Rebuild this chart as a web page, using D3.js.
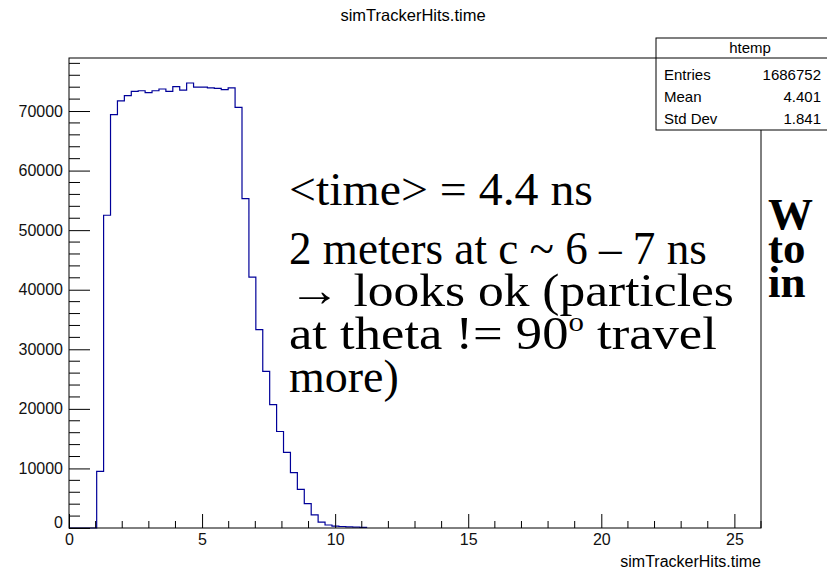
<!DOCTYPE html>
<html>
<head>
<meta charset="utf-8">
<script src="https://cdn.jsdelivr.net/npm/d3@7"></script>
<style>
  body { margin: 0; background: #fff; overflow: hidden; }
  svg { display: block; }
</style>
</head>
<body>
<div id="chart-area"></div>
<script>
// histogram of simTrackerHits.time, 100 bins over [0, 26], only the first 43 are non-empty
const xMin = 0
const xMax = 26
const nBins = 100
const counts = [
  0, 0, 0, 0, 9500, 52500, 69400, 71700, 72600, 73300,
  73400, 73100, 73400, 73700, 73300, 74100, 73500, 74700, 74000, 74000,
  73900, 73800, 73600, 73900, 70600, 55300, 42100, 33300, 26300, 20700,
  16200, 12700, 9300, 6500, 4100, 2200, 1000, 500, 300, 250,
  200, 150, 100
]
const yMax = 78900

const xMajor = [0, 5, 10, 15, 20, 25]
const xMinor = [1, 2, 3, 4, 6, 7, 8, 9, 11, 12, 13, 14, 16, 17, 18, 19, 21, 22, 23, 24, 26]
const yMajor = [0, 10000, 20000, 30000, 40000, 50000, 60000, 70000]
const yMinor = [2000, 4000, 6000, 8000, 12000, 14000, 16000, 18000, 22000, 24000, 26000, 28000,
  32000, 34000, 36000, 38000, 42000, 44000, 46000, 48000, 52000, 54000, 56000, 58000,
  62000, 64000, 66000, 68000, 72000, 74000, 76000, 78000]

const title = "simTrackerHits.time"
const xTitle = "simTrackerHits.time"
const statsRows = [["Entries", "1686752"], ["Mean", "4.401"], ["Std Dev", "1.841"]]

const notes = ["<time> = 4.4 ns", "2 meters at c ~ 6 \u2013 7 ns", "\u2192 looks ok (particles", "at theta != 90", "more)"]
const sideNotes = ["W", "to", "in"]

const W = 827, H = 573
const frame = {left: 69, top: 58, right: 761, bottom: 528}
const sans = "'Liberation Sans', Arial, Helvetica, sans-serif"
const serif = "'Liberation Serif', 'Times New Roman', serif"

let svg = d3.select("#chart-area").append("svg")
  .attr("width", W)
  .attr("height", H)

let x = d3.scaleLinear().domain([xMin, xMax]).range([frame.left, frame.right])
let y = d3.scaleLinear().domain([0, yMax]).range([frame.bottom, frame.top])

// histogram outline as steps
const bw = (xMax - xMin) / nBins
let pts = [[xMin, 0]]
counts.forEach((c, i) => {
  pts.push([xMin + i * bw, c])
  pts.push([xMin + (i + 1) * bw, c])
})
pts.push([xMin + counts.length * bw, 0])

svg.append("path")
  .attr("d", d3.line().x(d => x(d[0])).y(d => y(d[1]))(pts))
  .attr("fill", "none")
  .attr("stroke", "#000099")
  .attr("stroke-width", 1.2)

// minor ticks (inside frame)
let g = svg.append("g").attr("stroke", "#000").attr("stroke-width", 1)
xMinor.forEach(v => {
  g.append("line").attr("x1", x(v)).attr("x2", x(v))
    .attr("y1", frame.bottom).attr("y2", frame.bottom - 7)
})
yMinor.forEach(v => {
  g.append("line").attr("y1", y(v)).attr("y2", y(v))
    .attr("x1", frame.left).attr("x2", frame.left + 11)
})

// axes with major ticks pointing inward
let xAxis = svg.append("g")
  .attr("transform", `translate(0,${frame.bottom})`)
  .call(d3.axisBottom(x).tickValues(xMajor).tickSize(-14).tickPadding(6).tickSizeOuter(0))
let yAxis = svg.append("g")
  .attr("transform", `translate(${frame.left},0)`)
  .call(d3.axisLeft(y).tickValues(yMajor).tickSize(-21).tickPadding(6).tickSizeOuter(0).tickFormat(d3.format("d")))

;[xAxis, yAxis].forEach(a => {
  a.select(".domain").remove()
  a.selectAll("text").attr("font-family", sans).attr("font-size", 16).attr("fill", "#111")
  a.selectAll("line").attr("stroke", "#000")
})
// ROOT lifts the zero label of the y axis a little
yAxis.selectAll(".tick text").filter(d => d == 0).attr("dy", "-0.05em")

// frame
svg.append("rect")
  .attr("x", frame.left).attr("y", frame.top)
  .attr("width", frame.right - frame.left).attr("height", frame.bottom - frame.top)
  .attr("fill", "none").attr("stroke", "#000").attr("stroke-width", 1)

// titles
svg.append("text")
  .attr("x", 413).attr("y", 21)
  .attr("text-anchor", "middle")
  .attr("font-family", sans).attr("font-size", 16.5)
  .text(title)

svg.append("text")
  .attr("x", frame.right).attr("y", 567)
  .attr("text-anchor", "end")
  .attr("font-family", sans).attr("font-size", 16)
  .text(xTitle)

// stats box
let stats = svg.append("g")
stats.append("rect")
  .attr("x", 656).attr("y", 38).attr("width", 190).attr("height", 92)
  .attr("fill", "#fff").attr("stroke", "#000")
stats.append("line")
  .attr("x1", 656).attr("x2", 846).attr("y1", 58).attr("y2", 58)
  .attr("stroke", "#000")
stats.append("text")
  .attr("x", 750).attr("y", 53)
  .attr("text-anchor", "middle")
  .attr("font-family", sans).attr("font-size", 15)
  .text("htemp")
statsRows.forEach((r, i) => {
  stats.append("text")
    .attr("x", 664).attr("y", 80 + i * 22)
    .attr("font-family", sans).attr("font-size", 15)
    .text(r[0])
  stats.append("text")
    .attr("x", 821).attr("y", 80 + i * 22)
    .attr("text-anchor", "end")
    .attr("font-family", sans).attr("font-size", 15)
    .text(r[1])
})

// annotations (slide text pasted over the plot), each line squeezed/stretched to the slide's length
const noteY = [205, 264, 306, 349, 392]
const noteW = [304, 418, 445, 428, 0]
notes.forEach((t, i) => {
  let line = svg.append("g").attr("transform", `translate(289,${noteY[i]})`)
  let tx = line.append("text")
    .attr("font-family", serif).attr("font-size", 46)
    .text(t)
  if (i == 3) {
    tx.append("tspan").attr("font-size", 27).attr("dy", -18).text("o")
    tx.append("tspan").attr("dy", 18).text(" travel")
  }
  if (noteW[i] > 0) {
    let sx = noteW[i] / tx.node().getComputedTextLength()
    line.attr("transform", `translate(289,${noteY[i]}) scale(${sx},1)`)
  }
})

sideNotes.forEach((t, i) => {
  svg.append("text")
    .attr("x", 768).attr("y", 229 + i * 34)
    .attr("font-family", serif).attr("font-size", 45).attr("font-weight", "bold")
    .text(t)
})
</script>
</body>
</html>
